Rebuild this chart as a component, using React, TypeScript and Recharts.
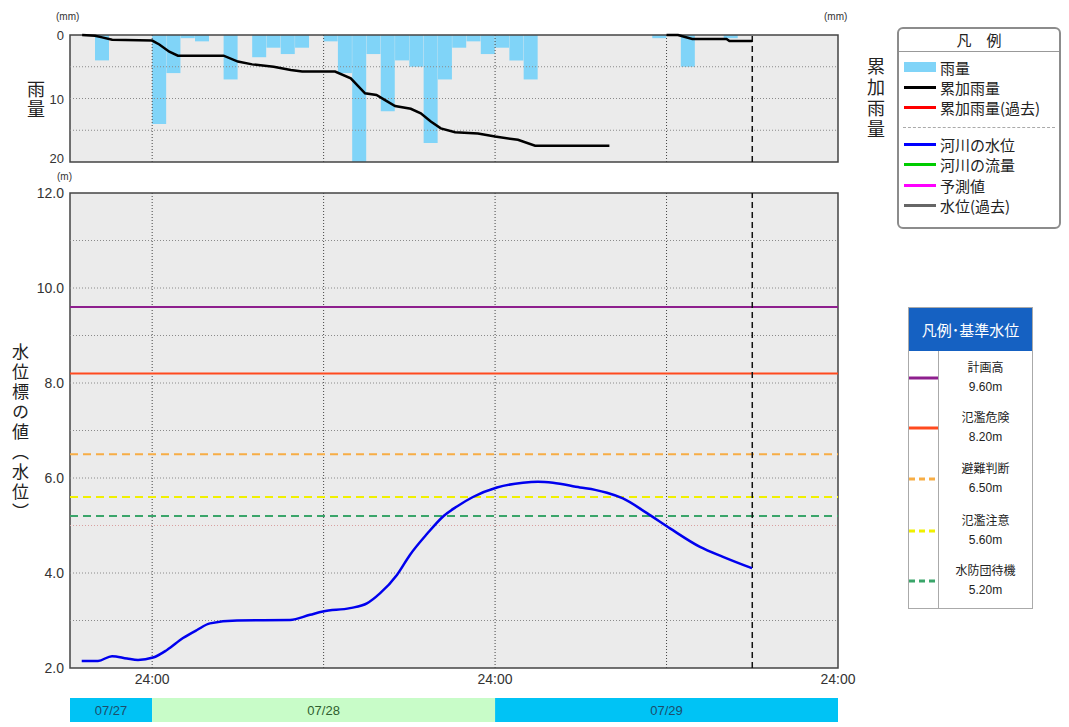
import React from "react";
import {
  ComposedChart,
  LineChart,
  BarChart,
  Line,
  Bar,
  LabelList,
  XAxis,
  YAxis,
  CartesianGrid,
  ReferenceLine,
  ReferenceArea,
} from "recharts";

// time axis: hours counted from 07/28 00:00
const X_DOMAIN: [number, number] = [-5.75, 48];
const X_TICKS = [0, 24, 48];
const X_TICK_LABELS = ["24:00", "24:00", "24:00"];
const HALF_DAY_LINES = [0, 12, 24, 36];
const NOW_HOUR = 42;

// hourly rainfall (hour start, mm)
const RAIN_HOURS = [-4, 0, 1, 2, 3, 5, 7, 8, 9, 10, 12, 13, 14, 15, 16, 17, 18, 19, 20, 21, 22, 23, 24, 25, 26, 35, 37, 40];
const RAIN_MM = [4, 14, 6, 0.5, 1, 7, 3.5, 2, 3, 2, 1, 6, 20, 3, 12, 4, 5, 17, 7, 2, 1, 3, 2, 4, 7, 0.5, 5, 0.5];

// cumulative rainfall, first event and current event
const CUM_PAST_HOURS = [-4.9, -4, -3.5, -2.8, 0, 0.5, 1.2, 1.8, 5, 6, 7, 8.5, 9.7, 10.5, 12.8, 13.9, 14.9, 15.7, 16.3, 17, 18.1, 18.8, 19.5, 20.2, 21.2, 22.8, 24, 25.6, 26.8, 32];
const CUM_PAST_MM = [0, 1, 3, 6, 7, 12, 21, 26, 26, 33.5, 37, 40, 44, 46, 46, 54.6, 73.5, 75.6, 82, 89.4, 93, 98.7, 109, 117.6, 122.6, 124, 128, 132, 139.5, 139.5];
const CUM_NOW_HOURS = [36, 36.8, 37.8, 40.2, 40.4, 42];
const CUM_NOW_MM = [0, 0, 5, 5, 7.6, 7.6];

// river water level (m)
const LEVEL_HOURS = [-4.93, -3.79, -2.81, -1.76, -0.99, 0.06, 1.04, 2.16, 3.14, 4.05, 5.94, 9.65, 11.05, 11.95, 13.84, 15.03, 15.94, 17.13, 18.04, 19.23, 20.4, 21.33, 22.45, 24.13, 25.95, 27, 28.05, 29.94, 31.0, 31.83, 32.95, 34.63, 36.24, 38.34, 39.95, 41.98];
const LEVEL_M = [2.15, 2.15, 2.25, 2.2, 2.17, 2.22, 2.38, 2.63, 2.8, 2.94, 3.0, 3.01, 3.12, 3.19, 3.26, 3.36, 3.57, 3.96, 4.38, 4.82, 5.2, 5.4, 5.6, 5.8, 5.9, 5.92, 5.9, 5.8, 5.75, 5.69, 5.57, 5.26, 4.94, 4.55, 4.34, 4.1];

// reference water levels
const LEVEL_NAMES = ["計画高", "氾濫危険", "避難判断", "氾濫注意", "水防団待機"];
const LEVEL_VALUES = [9.6, 8.2, 6.5, 5.6, 5.2];
const LEVEL_COLORS = ["#8e1f8e", "#ff4a1f", "#f7ad45", "#f0f000", "#3aa56a"];
const LEVEL_DASHED = [false, false, true, true, true];

const LEGEND_LABELS = ["雨量", "累加雨量", "累加雨量(過去)", "河川の水位", "河川の流量", "予測値", "水位(過去)"];
const LEGEND_COLORS = ["#80d4f8", "#000000", "#ff0000", "#0000ff", "#00cc00", "#ff00ff", "#666666"];

const DATES = ["07/27", "07/28", "07/29"];
const DAY_START = [-5.75, 0, 24];
const DAY_END = [0, 24, 48];
const DAY_FILL = ["#00c3f5", "#c8fcc8", "#00c3f5"];
const DAY_TEXT = ["#1d4d6b", "#2f5f2f", "#1d4d6b"];

const RAIN_TICKS = [0, 10, 20];
const CUM_TICKS = [0, 80, 160];
const Y_TICKS = [2, 4, 6, 8, 10, 12];
const MAIN_GRID = [3, 4, 5, 6, 7, 8, 9, 10, 11];

const rainData = RAIN_HOURS.map((h, i) => ({ t: h + 0.5, rain: RAIN_MM[i] }));
const cumData = [
  ...CUM_PAST_HOURS.map((t, i) => ({ t, past: CUM_PAST_MM[i] })),
  ...CUM_NOW_HOURS.map((t, i) => ({ t, now: CUM_NOW_MM[i] })),
];
const levelData = LEVEL_HOURS.map((t, i) => ({ t, level: LEVEL_M[i] }));
const dayRow: Record<string, number | string> = { name: "days" };
DATES.forEach((d, i) => {
  dayRow[d] = DAY_END[i] - DAY_START[i];
});

const NUM_FONT = "'Liberation Sans', Arial, sans-serif";
const JP_FONT = "'Noto Sans CJK JP', sans-serif";

function LeftTick({ x = 0, y = 0, payload }: any) {
  return (
    <text x={x - 4} y={y} dy={5} textAnchor="end" fontSize={13} fill="#333" fontFamily={NUM_FONT}>
      {payload?.value}
    </text>
  );
}

function RightTick({ x = 0, y = 0, payload }: any) {
  return (
    <text x={x + 3} y={y} dy={5} textAnchor="start" fontSize={13} fill="#333" fontFamily={NUM_FONT}>
      {payload?.value}
    </text>
  );
}

function LevelTick({ x = 0, y = 0, payload }: any) {
  return (
    <text x={x - 4} y={y} dy={5} textAnchor="end" fontSize={14} fill="#333" fontFamily={NUM_FONT}>
      {Number(payload?.value).toFixed(1)}
    </text>
  );
}

function TimeTick({ x = 0, y = 0, payload, index }: any) {
  const i = X_TICKS.indexOf(payload?.value);
  return (
    <text x={x} y={y} dy={14} textAnchor="middle" fontSize={14} fill="#333" fontFamily={NUM_FONT}>
      {X_TICK_LABELS[i >= 0 ? i : index]}
    </text>
  );
}

const vText = (text: string, left: number, top: number, size: number, spacing: number) => (
  <div
    style={{
      position: "absolute",
      left,
      top,
      writingMode: "vertical-rl",
      fontSize: size,
      letterSpacing: spacing,
      lineHeight: 1,
      fontFamily: JP_FONT,
      color: "#222",
    }}
  >
    {text}
  </div>
);

const smallText = (text: string, left: number, top: number) => (
  <div style={{ position: "absolute", left, top, fontSize: 10, fontFamily: NUM_FONT, color: "#333" }}>{text}</div>
);

function RainChart() {
  return (
    <>
      <div style={{ position: "absolute", left: 0, top: 0 }}>
        <ComposedChart width={900} height={167} data={rainData} margin={{ top: 35, right: 0, left: 0, bottom: 5 }}>
          <CartesianGrid fill="#ebebeb" horizontal={false} vertical={false} />
          <XAxis type="number" dataKey="t" domain={X_DOMAIN} allowDataOverflow hide />
          <YAxis
            yAxisId="rain"
            domain={[0, 20]}
            reversed
            ticks={RAIN_TICKS}
            width={70}
            axisLine={false}
            tickLine={false}
            tickSize={0}
            tick={<LeftTick />}
            allowDataOverflow
          />
          <YAxis
            yAxisId="cum"
            orientation="right"
            domain={[0, 160]}
            reversed
            ticks={CUM_TICKS}
            width={62}
            axisLine={false}
            tickLine={false}
            tickSize={0}
            tick={<RightTick />}
          />
          <Bar yAxisId="rain" dataKey="rain" fill="#80d4f8" barSize={14} isAnimationActive={false} />
        </ComposedChart>
      </div>
      <div style={{ position: "absolute", left: 0, top: 0 }}>
        <LineChart width={900} height={167} data={cumData} margin={{ top: 35, right: 62, left: 70, bottom: 5 }}>
          <XAxis type="number" dataKey="t" domain={X_DOMAIN} allowDataOverflow hide />
          <YAxis domain={[0, 160]} reversed hide />
          {[40, 80, 120].map((v) => (
            <ReferenceLine key={v} y={v} stroke="#8a8a8a" strokeDasharray="1 2" />
          ))}
          {HALF_DAY_LINES.map((v) => (
            <ReferenceLine key={v} x={v} stroke="#444" strokeDasharray="1 2" />
          ))}
          <ReferenceLine x={NOW_HOUR} stroke="#111" strokeWidth={1.5} strokeDasharray="6 4" />
          <ReferenceArea x1={X_DOMAIN[0]} x2={X_DOMAIN[1]} y1={0} y2={160} fill="none" stroke="#444" strokeWidth={1.5} />
          <Line dataKey="past" stroke="#000" strokeWidth={2.5} dot={false} isAnimationActive={false} />
          <Line dataKey="now" stroke="#000" strokeWidth={2.5} dot={false} isAnimationActive={false} />
        </LineChart>
      </div>
    </>
  );
}

function LevelChart() {
  return (
    <div style={{ position: "absolute", left: 0, top: 170 }}>
      <ComposedChart width={900} height={518} data={levelData} margin={{ top: 23, right: 62, left: 0, bottom: 0 }}>
        <CartesianGrid fill="#ebebeb" horizontal={false} vertical={false} />
        <XAxis
          type="number"
          dataKey="t"
          domain={X_DOMAIN}
          ticks={X_TICKS}
          allowDataOverflow
          height={20}
          axisLine={false}
          tickLine={false}
          tickSize={0}
          tick={<TimeTick />}
          interval={0}
        />
        <YAxis
          domain={[2, 12]}
          ticks={Y_TICKS}
          width={70}
          axisLine={false}
          tickLine={false}
          tickSize={0}
          tick={<LevelTick />}
          interval={0}
        />
        {MAIN_GRID.map((v) => (
          <ReferenceLine key={v} y={v} stroke={v === 5 ? "#d8a0a0" : "#8a8a8a"} strokeDasharray="1 2" />
        ))}
        {HALF_DAY_LINES.map((v) => (
          <ReferenceLine key={v} x={v} stroke="#444" strokeDasharray="1 2" />
        ))}
        {LEVEL_VALUES.map((v, i) => (
          <ReferenceLine
            key={LEVEL_NAMES[i]}
            y={v}
            stroke={LEVEL_COLORS[i]}
            strokeWidth={2}
            strokeDasharray={LEVEL_DASHED[i] ? "8 5" : undefined}
          />
        ))}
        <ReferenceLine x={NOW_HOUR} stroke="#111" strokeWidth={1.5} strokeDasharray="6 4" />
        <ReferenceArea x1={X_DOMAIN[0]} x2={X_DOMAIN[1]} y1={2} y2={12} fill="none" stroke="#444" strokeWidth={1.5} />
        <Line type="monotone" dataKey="level" stroke="#0000ee" strokeWidth={2.5} dot={false} isAnimationActive={false} />
      </ComposedChart>
    </div>
  );
}

function DateBar() {
  return (
    <div style={{ position: "absolute", left: 0, top: 694 }}>
      <BarChart
        width={900}
        height={32}
        data={[dayRow]}
        layout="vertical"
        margin={{ top: 4, right: 62, left: 70, bottom: 4 }}
        barCategoryGap={0}
      >
        <XAxis type="number" domain={[0, X_DOMAIN[1] - X_DOMAIN[0]]} hide />
        <YAxis type="category" dataKey="name" hide />
        {DATES.map((d, i) => (
          <Bar key={d} dataKey={d} stackId="days" fill={DAY_FILL[i]} isAnimationActive={false}>
            <LabelList
              dataKey={d}
              position="center"
              formatter={() => d}
              fill={DAY_TEXT[i]}
              fontSize={13}
              fontFamily={NUM_FONT}
            />
          </Bar>
        ))}
      </BarChart>
    </div>
  );
}

function SeriesLegend() {
  const tops = [38, 58, 78, 115, 135, 156, 176];
  return (
    <div
      style={{
        position: "absolute",
        left: 897,
        top: 27,
        width: 160,
        height: 198,
        border: "2px solid #8c8c8c",
        borderRadius: 6,
        background: "#fff",
        fontFamily: JP_FONT,
        color: "#222",
      }}
    >
      <div
        style={{
          height: 22,
          borderBottom: "1px solid #999",
          textAlign: "center",
          fontSize: 15,
          lineHeight: "22px",
        }}
      >
        凡　例
      </div>
      <div style={{ position: "absolute", left: 4, right: 4, top: 98, borderTop: "1px dashed #aaa" }} />
      {LEGEND_LABELS.map((label, i) => (
        <div key={label} style={{ position: "absolute", left: 5, top: tops[i] - 10, height: 20, display: "flex", alignItems: "center" }}>
          <div
            style={{
              width: 32,
              height: i === 0 ? 10 : 3,
              background: LEGEND_COLORS[i],
              marginRight: 4,
            }}
          />
          <span style={{ fontSize: 15, whiteSpace: "nowrap" }}>{label}</span>
        </div>
      ))}
    </div>
  );
}

function LevelLegend() {
  const swatchTops = [70, 120, 171, 223, 273];
  return (
    <div
      style={{
        position: "absolute",
        left: 908,
        top: 307,
        width: 123,
        height: 300,
        border: "1px solid #aaa",
        background: "#fff",
        fontFamily: JP_FONT,
      }}
    >
      <div
        style={{
          height: 43,
          background: "#1561c2",
          color: "#fff",
          fontSize: 15,
          lineHeight: "43px",
          textAlign: "center",
          whiteSpace: "nowrap",
        }}
      >
        凡例･基準水位
      </div>
      <div style={{ position: "absolute", left: 29, top: 43, bottom: 0, borderLeft: "1px solid #aaa" }} />
      {LEVEL_NAMES.map((name, i) => (
        <React.Fragment key={name}>
          <svg style={{ position: "absolute", left: 0, top: swatchTops[i] - 3 }} width={29} height={6}>
            <line
              x1={0}
              y1={3}
              x2={29}
              y2={3}
              stroke={LEVEL_COLORS[i]}
              strokeWidth={3}
              strokeDasharray={LEVEL_DASHED[i] ? "6 4" : undefined}
            />
          </svg>
          <div
            style={{
              position: "absolute",
              left: 30,
              width: 93,
              top: swatchTops[i] - 21,
              textAlign: "center",
              fontSize: 12,
              lineHeight: "20px",
              color: "#222",
            }}
          >
            <div>{name}</div>
            <div style={{ fontFamily: NUM_FONT }}>{LEVEL_VALUES[i].toFixed(2)}m</div>
          </div>
        </React.Fragment>
      ))}
    </div>
  );
}

export default function App() {
  return (
    <div style={{ position: "absolute", left: 0, top: 0, width: 1069, height: 727, background: "#fff", overflow: "hidden" }}>
      <RainChart />
      <LevelChart />
      <DateBar />
      {smallText("(mm)", 56, 11)}
      {smallText("(mm)", 824, 11)}
      {smallText("(m)", 57, 171)}
      {vText("雨量", 27, 80, 18, 2)}
      {vText("累加雨量", 867, 57, 18, 3)}
      {vText("水位標の値（水位）", 12, 343, 17, 3)}
      <SeriesLegend />
      <LevelLegend />
    </div>
  );
}
